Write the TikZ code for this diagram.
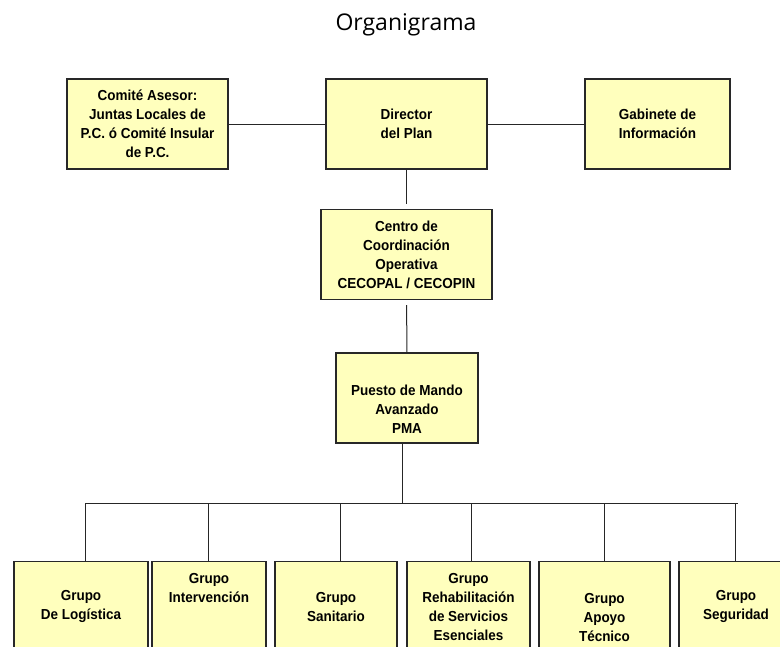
\documentclass[tikz,border=0pt]{standalone}
\usepackage{fontspec}
\setmainfont{Liberation Sans}
\newfontfamily\boxfont{Liberation Sans}[FakeStretch=0.93]
\newfontfamily\titlefont{Open Sans}
\usepackage{tikz}
\usetikzlibrary{positioning,calc}

\definecolor{boxfill}{RGB}{255,255,189}
\definecolor{boxline}{RGB}{40,40,40}

\begin{document}
\begin{tikzpicture}[
      x=1pt,y=-1pt,
      unit/.style={rectangle,draw=boxline,fill=boxfill,line width=1.1pt,
                   inner sep=0pt,minimum height=90pt,align=center,
                   font=\boxfont\bfseries\fontsize{14.5}{19}\selectfont},
      link/.style={draw=black!85,line width=1pt},
      gap/.style={link,shorten >=5pt}
    ]
    \useasboundingbox (0,0) rectangle (780,646);
    \clip (0,0) rectangle (780,646);

    % Title
    \node[font=\titlefont\fontsize{23}{26}\selectfont] (title) at (406,25) {Organigrama};

    % Top row
    \node[unit,minimum width=161pt] (D) at (406.5,124) {Director\\del Plan};
    \node[unit,minimum width=161pt] (C) at (147.5,124)
      {Comité Asesor:\\Juntas Locales de\\P.C. ó Comité Insular\\de P.C.};
    \node[unit,minimum width=145pt] (G) at (657.5,124) {Gabinete de\\Información};

    % Coordination and command
    \node[unit,minimum width=171pt] (CC) at (406.5,254.5)
      {Centro de\\Coordinación\\Operativa\\CECOPAL / CECOPIN};
    \node[unit,minimum width=142pt] (P) at (407,398)
      {\strut\\Puesto de Mando\\Avanzado\\PMA};

    % Groups
    \node[unit,minimum width=134pt,anchor=north] (g1) at (81,561) {Grupo\\De Logística};
    \node[unit,minimum width=114pt,anchor=north] (g2) at (209,561) {Grupo\\Intervención\\~\\~};
    \node[unit,minimum width=122pt,anchor=north] (g3) at (336,561) {Grupo\\Sanitario};
    \node[unit,minimum width=123pt,anchor=north] (g4) at (468.5,561)
      {Grupo\\Rehabilitación\\de Servicios\\Esenciales};
    \node[unit,minimum width=131pt,anchor=north] (g5) at (604.5,561) {\strut\\Grupo\\Apoyo\\Técnico};
    \node[unit,minimum width=114pt,anchor=north] (g6) at (736,561) {Grupo\\Seguridad};

    % Links between top boxes
    \draw[link] (C) -- (D);
    \draw[link] (D) -- (G);
    \draw[gap] (D) -- (CC);
    \draw[gap] (P) -- (CC);

    % Bus to the groups
    \coordinate (hub) at (402,503);
    \coordinate (busL) at (85,503);
    \coordinate (busR) at (738,503);
    \draw[link] (P.south -| hub) -- (hub);
    \draw[link] (busL) -- (busR);
    \foreach \g/\bx in {g1/85,g2/208,g3/340,g4/471,g5/604,g6/735} {
      \coordinate (b-\g) at (\bx,503);
      \draw[link] (b-\g) -- (b-\g |- \g.north);
    }

  \end{tikzpicture}
\end{document}
